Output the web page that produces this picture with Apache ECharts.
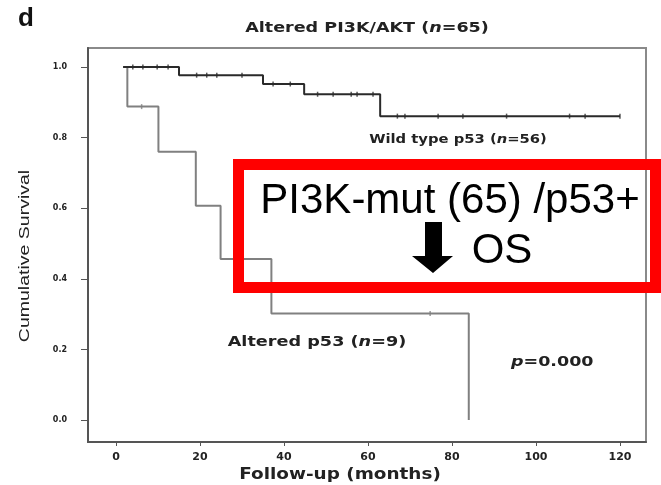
<!DOCTYPE html>
<html><head><meta charset="utf-8">
<script src="https://cdn.jsdelivr.net/npm/echarts@6/dist/echarts.min.js"></script>
<style>html,body{margin:0;padding:0;background:#fff}#c{width:661px;height:485px}</style>
</head><body><div id="c"></div>
<script>
// Data (months, cumulative survival)
const wildTimes = [1.7, 15, 35, 44.8, 62.9, 120];
const wildSurv  = [1.0, 0.977, 0.952, 0.923, 0.861, 0.861];
const altTimes  = [1.7, 2.7, 10.1, 19, 24.9, 37, 84];
const altSurv   = [1.0, 0.888, 0.76, 0.607, 0.456, 0.302, 0.0];
const wildCensorTimes = [4, 6.4, 9.8, 12.4, 19.2, 21.6, 24, 30, 37.4, 41.5, 48, 51.7, 56, 57.4, 61.2, 67, 68.8, 76.7, 82.6, 93, 108, 111.7, 120];
const wildCensorSurv  = [1, 1, 1, 1, 0.977, 0.977, 0.977, 0.977, 0.952, 0.952, 0.923, 0.923, 0.923, 0.923, 0.923, 0.861, 0.861, 0.861, 0.861, 0.861, 0.861, 0.861, 0.861];
const altCensorTimes = [6.1, 74.8];
const altCensorSurv  = [0.888, 0.302];
const xTicks = [0, 20, 40, 60, 80, 100, 120];
const yTicks = [0, 0.2, 0.4, 0.6, 0.8, 1.0];

const FONT = 'Liberation Sans, Arial, sans-serif';
const WIDE = 'DejaVu Sans, Verdana, sans-serif';
const zip = (a, b) => a.map((v, i) => [v, b[i]]);

function label(x, y, parts, size, sx, align) {
  return {type: 'text', x: x, y: y, scaleX: sx, style: {
    text: parts, align: align || 'center', verticalAlign: 'middle',
    rich: {b: {font: 'bold ' + size + 'px ' + WIDE, fill: '#222'}, i: {font: 'italic bold ' + size + 'px ' + WIDE, fill: '#222'}}}};
}

const chart = echarts.init(document.getElementById('c'), null, {renderer: 'canvas'});
chart.setOption({
  animation: false,
  backgroundColor: '#fff',
  grid: {left: 88, right: 15, top: 48, bottom: 43, outerBoundsMode: 'none', containLabel: false,
         show: true, borderColor: '#8a8a8a', borderWidth: 2, backgroundColor: '#fff'},
  xAxis: {
    type: 'value', min: -6.67, max: 126.2,
    axisLine: {show: true, onZero: false, lineStyle: {color: '#555', width: 2}},
    splitLine: {show: false},
    axisTick: {show: true, customValues: xTicks, length: 4, inside: false, lineStyle: {color: '#555', width: 1}},
    axisLabel: {show: true, customValues: xTicks, margin: 10, fontFamily: WIDE, fontSize: 11, fontWeight: 'bold', color: '#222'}
  },
  yAxis: {
    type: 'value', min: -0.062, max: 1.054,
    axisLine: {show: true, onZero: false, lineStyle: {color: '#555', width: 2}},
    splitLine: {show: false},
    axisTick: {show: true, customValues: yTicks, length: 7, lineStyle: {color: '#555', width: 1}},
    axisLabel: {show: true, customValues: yTicks, margin: 21, fontFamily: WIDE, fontSize: 8, fontWeight: 'bold', color: '#222',
      formatter: v => v.toFixed(1)}
  },
  series: [
    {type: 'line', step: 'end', data: zip(wildTimes, wildSurv), showSymbol: false, symbol: 'none',
     lineStyle: {color: '#2a2a2a', width: 2}, z: 3},
    {type: 'line', step: 'end', data: zip(altTimes, altSurv), showSymbol: false, symbol: 'none',
     lineStyle: {color: '#808080', width: 2}, z: 2},
    {type: 'scatter', data: zip(wildCensorTimes, wildCensorSurv), symbol: 'rect', symbolSize: [1.5, 5],
     itemStyle: {color: '#2a2a2a'}, z: 4},
    {type: 'scatter', data: zip(altCensorTimes, altCensorSurv), symbol: 'rect', symbolSize: [1.5, 5],
     itemStyle: {color: '#808080'}, z: 4}
  ],
  graphic: [
    {type: 'text', left: 18, top: 6, style: {text: 'd', font: 'bold 26px ' + FONT, fill: '#111'}},
    {type: 'text', x: 24.5, y: 256, rotation: Math.PI / 2, scaleX: 1.3,
     style: {text: 'Cumulative Survival', align: 'center', verticalAlign: 'middle', font: '15px ' + FONT, fill: '#222'}},
    label(367, 28, '{b|Altered PI3K/AKT (}{i|n}{b|=65)}', 13.5, 1.3),
    label(340, 475, '{b|Follow-up (months)}', 16, 1.15),
    label(458, 140, '{b|Wild type p53 (}{i|n}{b|=56)}', 12, 1.23),
    label(317, 342, '{b|Altered p53 (}{i|n}{b|=9)}', 14, 1.26),
    label(511, 362, '{i|p}{b|=0.000}', 14, 1.25, 'left'),
    {type: 'rect', shape: {x: 238.5, y: 164.5, width: 417, height: 123}, style: {fill: 'none', stroke: '#ff0000', lineWidth: 11}, z: 10},
    {type: 'text', x: 450, y: 201, style: {text: 'PI3K-mut (65) /p53+', align: 'center', verticalAlign: 'middle', font: '42px ' + FONT, fill: '#000'}, z: 11},
    {type: 'text', x: 502, y: 251, style: {text: 'OS', align: 'center', verticalAlign: 'middle', font: '42px ' + FONT, fill: '#000'}, z: 11},
    {type: 'polygon', shape: {points: [[425, 222], [442, 222], [442, 256], [453, 256], [433, 273], [412, 256], [425, 256]]},
     style: {fill: '#000'}, z: 11}
  ]
});
</script></body></html>
